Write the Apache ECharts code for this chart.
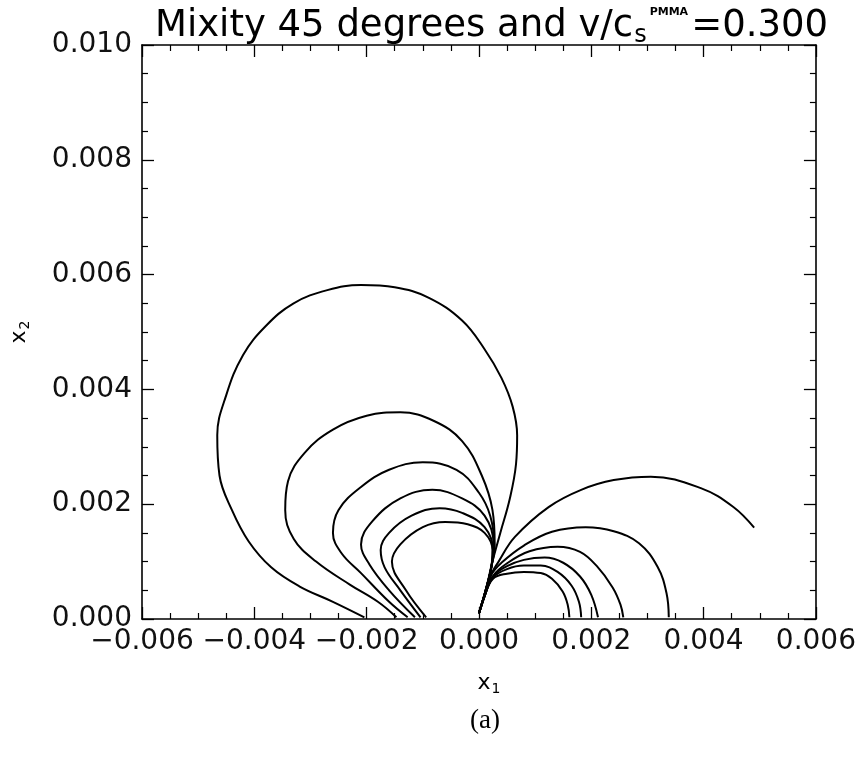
<!DOCTYPE html>
<html>
<head>
<meta charset="utf-8">
<script src="https://cdn.jsdelivr.net/npm/echarts@6/dist/echarts.min.js"></script>
<style>
  html, body { margin: 0; padding: 0; background: #fff; }
  #chart { width: 859px; height: 761px; }
</style>
</head>
<body>
<div id="chart"></div>
<script>
// Axis ranges and tick spacing
const xRange = [-0.006, 0.006];
const yRange = [0.000, 0.010];
const majorStep = 0.002;

// Left-hand lobes: each runs from the origin, up over the top, and down to its foot on the x1 axis
const lobeL1 = [[0,0.0001],[0.00012,0.0005],[0.00024,0.001],[0.00038,0.0015],[0.00055,0.0021],[0.00066,0.0027],[0.00068,0.0032],[0.0006,0.0037],[0.0004,0.0042],[0.0001,0.0047],[-0.0003,0.0052],[-0.0009,0.0056],[-0.0015,0.00578],[-0.0021,0.00582],[-0.0027,0.00573],[-0.0033,0.0055],[-0.0038,0.0051],[-0.0042,0.0046],[-0.0045,0.0039],[-0.00466,0.0032],[-0.00462,0.0025],[-0.0044,0.0019],[-0.0041,0.00135],[-0.0037,0.0009],[-0.0032,0.00057],[-0.0026,0.0003],[-0.00204,0.00003]];
const lobeL2 = [[0,0.0001],[0.00012,0.0005],[0.00022,0.0009],[0.00028,0.0013],[0.00024,0.0019],[0.00005,0.0025],[-0.0003,0.0031],[-0.0008,0.00345],[-0.0014,0.0036],[-0.002,0.00354],[-0.0026,0.0033],[-0.0031,0.0029],[-0.0034,0.0024],[-0.00345,0.0019],[-0.0033,0.0014],[-0.0029,0.001],[-0.0023,0.0006],[-0.0018,0.0003],[-0.00147,0.00003]];
const lobeL3 = [[0,0.0001],[0.00012,0.0005],[0.00022,0.0009],[0.00027,0.0013],[0.0002,0.0018],[0.0000,0.0022],[-0.0004,0.0026],[-0.001,0.00273],[-0.0016,0.0026],[-0.0021,0.0023],[-0.0025,0.0019],[-0.0026,0.0015],[-0.00245,0.00115],[-0.0021,0.0008],[-0.0016,0.0003],[-0.00127,0.00003]];
const lobeL4 = [[0,0.0001],[0.00012,0.0005],[0.00022,0.0009],[0.00026,0.0013],[0.0001,0.0018],[-0.0003,0.0021],[-0.00083,0.00225],[-0.0014,0.0021],[-0.0019,0.0017],[-0.0021,0.0013],[-0.00195,0.00095],[-0.0016,0.0005],[-0.00114,0.00003]];
const lobeL5 = [[0,0.0001],[0.00012,0.0005],[0.00022,0.0009],[0.00025,0.0012],[0.0001,0.0016],[-0.0003,0.00185],[-0.0007,0.00193],[-0.0012,0.0018],[-0.0016,0.0015],[-0.00175,0.0012],[-0.00168,0.0009],[-0.0014,0.0005],[-0.00104,0.00003]];
const lobeL6 = [[0,0.0001],[0.00012,0.0005],[0.00022,0.0009],[0.00024,0.0012],[0.0001,0.0015],[-0.0002,0.00165],[-0.0006,0.00169],[-0.001,0.0016],[-0.0014,0.0013],[-0.00155,0.001],[-0.0013,0.0005],[-0.00094,0.00003]];

// Right-hand arcs: each leaves the origin and bends down to the x1 axis (the outermost stops short)
const arcR1 = [[0,0.0001],[0.0001,0.0004],[0.00022,0.00078],[0.00035,0.001],[0.00064,0.00143],[0.00124,0.00195],[0.00182,0.00225],[0.0024,0.00242],[0.00306,0.00248],[0.00395,0.00228],[0.00453,0.00195],[0.0049,0.00159]];
const arcR2 = [[0,0.0001],[0.0001,0.0004],[0.00022,0.00077],[0.0004,0.00098],[0.0008,0.00128],[0.0013,0.00152],[0.0019,0.0016],[0.0024,0.00153],[0.00285,0.00132],[0.00318,0.00091],[0.00334,0.00045],[0.00338,0.00003]];
const arcR3 = [[0,0.0001],[0.0001,0.0004],[0.00025,0.00075],[0.0005,0.00097],[0.0009,0.00118],[0.0014,0.00126],[0.0018,0.00117],[0.0021,0.00092],[0.00238,0.00055],[0.00252,0.00025],[0.00257,0.00003]];
const arcR4 = [[0,0.0001],[0.0001,0.0004],[0.00025,0.00074],[0.0005,0.00092],[0.0008,0.00103],[0.00117,0.00107],[0.0015,0.00098],[0.0018,0.00074],[0.002,0.00042],[0.00212,0.00003]];
const arcR5 = [[0,0.0001],[0.0001,0.0004],[0.00025,0.00072],[0.0005,0.00087],[0.0008,0.00093],[0.0011,0.00093],[0.0014,0.00082],[0.00165,0.00058],[0.00178,0.0003],[0.00182,0.00003]];
const arcR6 = [[0,0.0001],[0.0001,0.0004],[0.00025,0.0007],[0.0005,0.00079],[0.0008,0.00082],[0.0011,0.0008],[0.0013,0.0007],[0.00149,0.00048],[0.00158,0.00025],[0.00161,0.00003]];

const curves = [lobeL1, lobeL2, lobeL3, lobeL4, lobeL5, lobeL6, arcR1, arcR2, arcR3, arcR4, arcR5, arcR6];

const fmt = v => {
  const s = Math.abs(v).toFixed(3);
  return v < -1e-12 ? '\u2212' + s : s;
};

const labelFont = 'DejaVu Sans';

function makeAxis(kind, pos, range, withLabels) {
  return {
    type: 'value',
    position: pos,
    min: range[0],
    max: range[1],
    interval: majorStep,
    splitLine: { show: false },
    axisLine: { show: true, onZero: false, lineStyle: { color: '#000', width: 1.6 } },
    axisTick: { show: true, inside: true, length: 12, lineStyle: { color: '#000', width: 1.3 } },
    minorTick: { show: true, splitNumber: 4, length: 6, lineStyle: { color: '#000', width: 1.2 } },
    minorSplitLine: { show: false },
    axisLabel: withLabels ? {
      show: true, formatter: fmt, color: '#111', fontFamily: labelFont, fontSize: 28,
      fontWeight: 'normal', margin: kind === 'x' ? 9 : 10
    } : { show: false }
  };
}

const nameRich = {
  v: { fontFamily: labelFont, fontSize: 22, color: '#000' },
  s: { fontFamily: labelFont, fontSize: 14, color: '#000', padding: [12, 0, 0, 1] }
};

const xMain = makeAxis('x', 'bottom', xRange, true);
xMain.name = '{v|x}{s|1}';
xMain.nameLocation = 'middle';
xMain.nameGap = 51;
xMain.nameTextStyle = { rich: nameRich, padding: [0, 0, 0, 20] };

const yMain = makeAxis('y', 'left', yRange, true);
yMain.name = '{v|x}{s|2}';
yMain.nameLocation = 'middle';
yMain.nameRotate = 90;
yMain.nameGap = 110;
yMain.nameTextStyle = { rich: nameRich };

const chart = echarts.init(document.getElementById('chart'), null, { renderer: 'canvas' });
chart.setOption({
  animation: false,
  backgroundColor: '#fff',
  title: {
    text: '{n|Mixity 45 degrees and v/c}{sub|s}{sup|PMMA}{n|=0.300}',
    left: 150,
    top: -1,
    textStyle: { fontWeight: 'normal', rich: {
      n: { fontFamily: labelFont, fontSize: 37, fontWeight: 'normal', color: '#000' },
      sub: { fontFamily: labelFont, fontSize: 24, fontWeight: 'normal', color: '#000', padding: [20, 0, 0, 1] },
      sup: { fontFamily: labelFont, fontSize: 11, fontWeight: 'bold', color: '#000', padding: [0, 3, 28, 3] }
    } }
  },
  grid: { left: 138, right: 43, top: 45, bottom: 142, containLabel: false },
  xAxis: [xMain, makeAxis('x', 'top', xRange, false)],
  yAxis: [yMain, makeAxis('y', 'right', yRange, false)],
  graphic: [{
    type: 'text', left: 470, top: 707,
    style: { text: '(a)', fontFamily: 'Liberation Serif', fontSize: 27, fill: '#000' }
  }],
  series: curves.map(pts => ({
    type: 'line',
    xAxisIndex: 0,
    yAxisIndex: 0,
    data: pts,
    smooth: 0.4,
    showSymbol: false,
    silent: true,
    clip: true,
    lineStyle: { color: '#000', width: 2 }
  }))
});
</script>
</body>
</html>
